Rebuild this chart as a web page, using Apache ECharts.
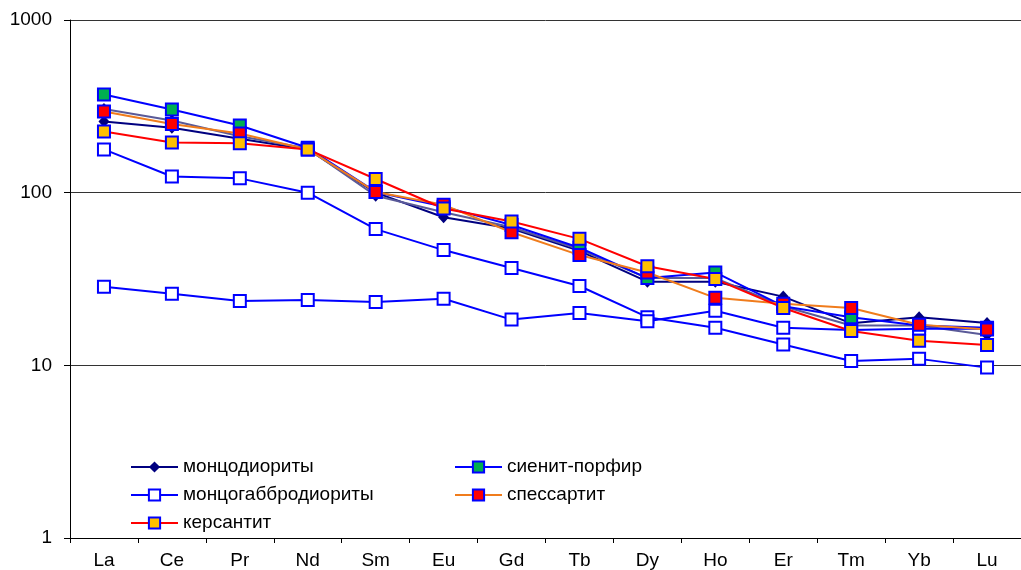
<!DOCTYPE html>
<html>
<head>
<meta charset="utf-8">
<script src="https://cdn.jsdelivr.net/npm/echarts@6/dist/echarts.min.js"></script>
<style>html,body{margin:0;padding:0;background:#fff}#c{width:1021px;height:570px}</style>
</head>
<body>
<div id="c"></div>
<script>
const categories = ['La','Ce','Pr','Nd','Sm','Eu','Gd','Tb','Dy','Ho','Er','Tm','Yb','Lu'];
const yTicks = [1, 10, 100, 1000];

// монцодиориты (two samples)
const monzodiorite1 = [258, 238, 205, 178, 100, 72, 62, 46, 30.5, 30.5, 25, 17.5, 19, 17.6];
const monzodiorite2 = [305, 262, 212, 180, 96, 77, 63, 47, 32, 32, 22, 17, 17, 15];
// сиенит-порфир
const syenitePorphyry = [370, 303, 245, 182, 101, 83, 65, 48, 32, 34.5, 22, 19, 17, 16.5];
// монцогаббродиориты (two samples)
const monzogabbro1 = [178, 124, 121, 100, 61.5, 46.5, 36.6, 28.8, 19, 16.5, 13.2, 10.6, 10.9, 9.7];
const monzogabbro2 = [28.5, 26, 23.6, 23.9, 23.3, 24.3, 18.4, 20.1, 18, 20.7, 16.5, 16, 16.3, 16.3];
// спессартит
const spessartite = [295, 250, 220, 178, 101, 85, 59, 43.5, 34.5, 24.6, 22.7, 21.5, 17.2, 16.1];
// керсантит
const kersantite = [226, 195, 193, 178, 120, 81, 68, 54, 37.5, 31.6, 21.5, 15.8, 13.9, 13.1];

const sq = (fill, line) => ({
  type: 'line', symbol: 'rect', symbolSize: 12,
  lineStyle: {color: line, width: 2},
  itemStyle: {color: fill, borderColor: '#0000ff', borderWidth: 2},
  emphasis: {disabled: true}, animation: false
});
const dia = (line) => ({
  type: 'line', symbol: 'diamond', symbolSize: [11, 12],
  lineStyle: {color: line, width: 2},
  itemStyle: {color: '#000080', borderColor: '#000080', borderWidth: 0},
  emphasis: {disabled: true}, animation: false
});

const series = [
  Object.assign(dia('#000080'), {name: 'монцодиориты', data: monzodiorite1, z: 2}),
  Object.assign(dia('#5a5a98'), {name: 'монцодиориты', data: monzodiorite2, z: 2}),
  Object.assign(sq('#00b050', '#0000ff'), {name: 'сиенит-порфир', data: syenitePorphyry, z: 3}),
  Object.assign(sq('#ffffff', '#0000ff'), {name: 'монцогаббродиориты', data: monzogabbro1, z: 4}),
  Object.assign(sq('#ffffff', '#0000ff'), {name: 'монцогаббродиориты', data: monzogabbro2, z: 4}),
  Object.assign(sq('#ff0000', '#f07c1c'), {name: 'спессартит', data: spessartite, z: 5}),
  Object.assign(sq('#ffc000', '#ff0000'), {name: 'керсантит', data: kersantite, z: 6})
];

const FONT = 'Liberation Sans, Arial, sans-serif';
const legendCommon = {
  orient: 'vertical', itemWidth: 47, itemHeight: 14, itemGap: 8,
  textStyle: {fontFamily: FONT, fontSize: 19, lineHeight: 20, color: '#000'},
  selectedMode: false, padding: 0
};

const chart = echarts.init(document.getElementById('c'), null, {renderer: 'canvas'});
chart.setOption({
  animation: false,
  backgroundColor: '#fff',
  grid: {left: 70, right: 0, top: 20, bottom: 30, containLabel: false},
  legend: [
    Object.assign({}, legendCommon, {left: 130, top: 457, data: ['монцодиориты', 'монцогаббродиориты', 'керсантит']}),
    Object.assign({}, legendCommon, {left: 454, top: 457, data: ['сиенит-порфир', 'спессартит']})
  ],
  xAxis: {
    type: 'category', data: categories, boundaryGap: true,
    axisLine: {lineStyle: {color: '#000', width: 1}},
    axisTick: {show: true, length: 5, lineStyle: {color: '#000'}},
    axisLabel: {color: '#000', fontSize: 19, fontFamily: FONT, margin: 13}
  },
  yAxis: {
    type: 'log', logBase: 10, min: yTicks[0], max: yTicks[yTicks.length - 1],
    axisLine: {show: true, lineStyle: {color: '#000', width: 1}},
    axisTick: {show: true, length: 6, lineStyle: {color: '#000'}},
    minorTick: {show: false},
    splitLine: {show: true, lineStyle: {color: '#333', width: 1}},
    axisLabel: {color: '#000', fontSize: 19, fontFamily: FONT, margin: 18,
      formatter: v => String(Math.round(v))}
  },
  series: series
});
</script>
</body>
</html>
